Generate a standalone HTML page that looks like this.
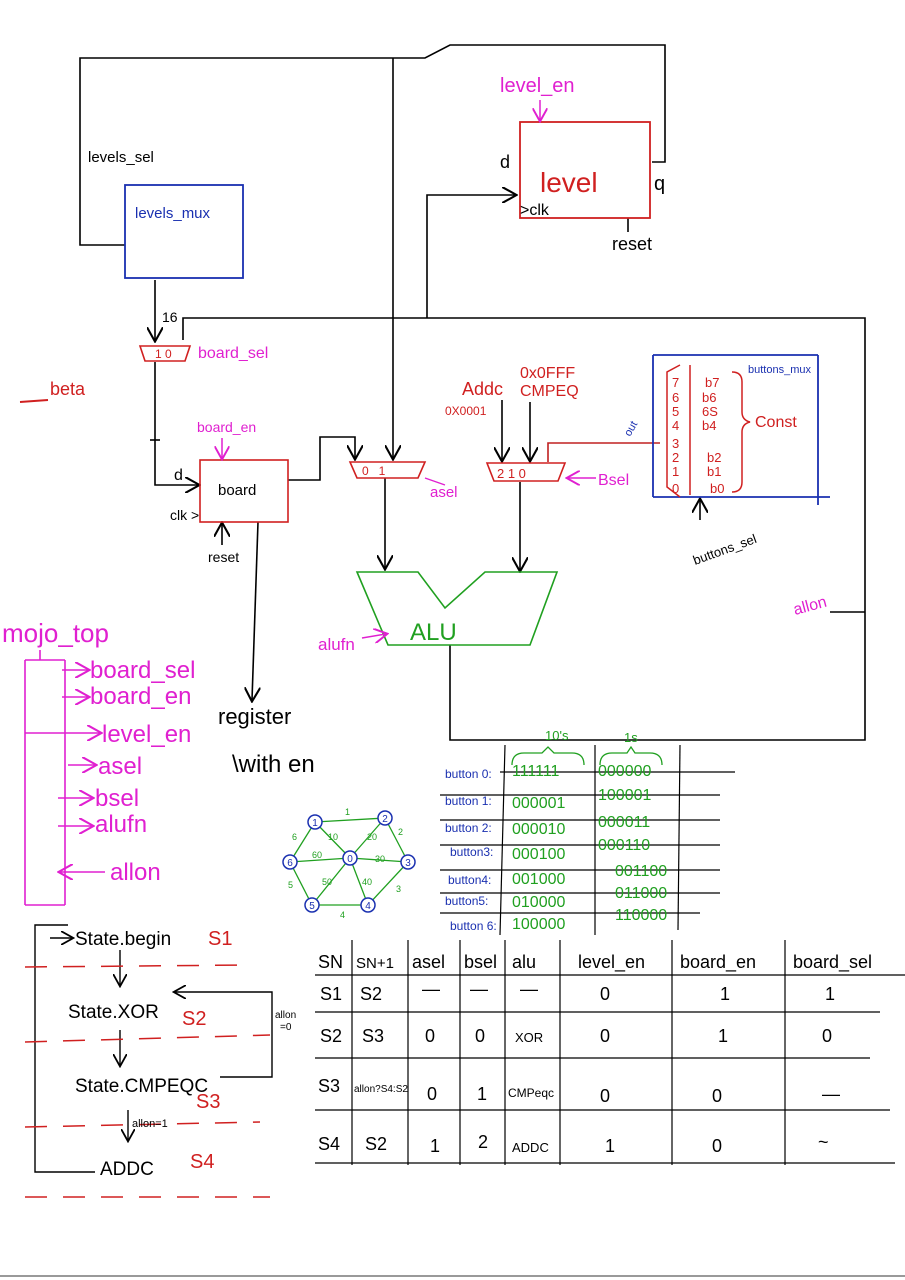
<!DOCTYPE html>
<html><head><meta charset="utf-8"><style>
html,body{margin:0;padding:0;background:#fff}
svg{display:block}
text{font-family:"Liberation Sans",sans-serif}
</style></head><body>
<svg width="905" height="1280" viewBox="0 0 905 1280" xmlns="http://www.w3.org/2000/svg">
<defs>
<marker id="a" markerWidth="10" markerHeight="10" refX="8" refY="5" orient="auto"><path d="M0,0 L9,5 L0,10" fill="none" stroke="#000" stroke-width="1.3"/></marker>
<marker id="am" markerWidth="10" markerHeight="10" refX="8" refY="5" orient="auto"><path d="M0,0 L9,5 L0,10" fill="none" stroke="#e020d0" stroke-width="1.3"/></marker>
</defs>
<rect width="905" height="1280" fill="#fff"/>
<line x1="0" y1="1276" x2="905" y2="1276" stroke="#999" stroke-width="2"/>

<g stroke="#000" stroke-width="1.6" fill="none">
<polyline points="125,245 80,245 80,58 425,58 450,45 665,45 665,162 652,162"/>
<line x1="393" y1="58" x2="393" y2="458" marker-end="url(#a)"/>
<polyline points="427,318 427,195 515,195" marker-end="url(#a)"/>
<polyline points="183,340 183,318 865,318 865,740 450,740 450,645"/>
<line x1="155" y1="280" x2="155" y2="340" marker-end="url(#a)"/>
<polyline points="155,362 155,485 198,485" marker-end="url(#a)"/>
<line x1="150" y1="440" x2="160" y2="440"/>
<polyline points="288,480 320,480 320,437 355,437 355,458" marker-end="url(#a)"/>
<line x1="385" y1="478" x2="385" y2="568" marker-end="url(#a)"/>
<line x1="520" y1="482" x2="520" y2="570" marker-end="url(#a)"/>
<line x1="502" y1="400" x2="502" y2="460" marker-end="url(#a)"/>
<line x1="530" y1="402" x2="530" y2="460" marker-end="url(#a)"/>
<polyline points="548,462 548,443 660,443" stroke="#c02020"/>
<line x1="222" y1="545" x2="222" y2="524" marker-end="url(#a)"/>
<line x1="258" y1="522" x2="252" y2="700" marker-end="url(#a)"/>
<line x1="830" y1="612" x2="865" y2="612"/>
<line x1="628" y1="218" x2="628" y2="232"/>
<line x1="700" y1="520" x2="700" y2="500" marker-end="url(#a)"/>
</g>

<rect x="125" y="185" width="118" height="93" fill="none" stroke="#1a30b0" stroke-width="1.8"/>
<text x="135" y="218" font-size="15" fill="#1a30b0">levels_mux</text>
<text x="88" y="162" font-size="15" fill="#000">levels_sel</text>

<rect x="520" y="122" width="130" height="96" fill="none" stroke="#d02020" stroke-width="1.8"/>
<text x="540" y="192" font-size="28" fill="#d02020">level</text>
<text x="500" y="92" font-size="20" fill="#e020d0">level_en</text>
<line x1="540" y1="100" x2="540" y2="120" stroke="#e020d0" stroke-width="1.5" marker-end="url(#am)"/>
<text x="500" y="168" font-size="18">d</text>
<text x="654" y="190" font-size="20">q</text>
<text x="520" y="215" font-size="16">&gt;clk</text>
<text x="612" y="250" font-size="18">reset</text>

<polygon points="140,346 190,346 185,361 145,361" fill="none" stroke="#d02020" stroke-width="1.6"/>
<text x="155" y="358" font-size="12" fill="#d02020">1 0</text>
<text x="162" y="322" font-size="14">16</text>
<text x="198" y="358" font-size="16" fill="#e020d0">board_sel</text>
<text x="50" y="395" font-size="18" fill="#d02020">beta</text>
<line x1="20" y1="402" x2="48" y2="400" stroke="#d02020" stroke-width="2"/>

<rect x="200" y="460" width="88" height="62" fill="none" stroke="#d02020" stroke-width="1.6"/>
<text x="218" y="495" font-size="15">board</text>
<text x="197" y="432" font-size="14" fill="#e020d0">board_en</text>
<line x1="222" y1="438" x2="222" y2="458" stroke="#e020d0" stroke-width="1.5" marker-end="url(#am)"/>
<text x="174" y="480" font-size="16">d</text>
<text x="170" y="520" font-size="14">clk &gt;</text>
<text x="208" y="562" font-size="14">reset</text>

<polygon points="350,462 425,462 418,478 357,478" fill="none" stroke="#d02020" stroke-width="1.6"/>
<text x="362" y="475" font-size="12" fill="#d02020">0&#160;&#160;&#160;1</text>
<text x="430" y="497" font-size="15" fill="#e020d0">asel</text>
<line x1="445" y1="485" x2="425" y2="478" stroke="#e020d0" stroke-width="1.3"/>

<polygon points="487,463 565,463 558,481 494,481" fill="none" stroke="#d02020" stroke-width="1.6"/>
<text x="497" y="478" font-size="13" fill="#d02020">2 1 0</text>
<text x="598" y="485" font-size="16" fill="#e020d0">Bsel</text>
<line x1="596" y1="478" x2="568" y2="478" stroke="#e020d0" stroke-width="1.5" marker-end="url(#am)"/>
<text x="462" y="395" font-size="18" fill="#d02020">Addc</text>
<text x="520" y="378" font-size="16" fill="#d02020">0x0FFF</text>
<text x="520" y="396" font-size="16" fill="#d02020">CMPEQ</text>
<text x="445" y="415" font-size="12" fill="#d02020">0X0001</text>
<text x="630" y="437" font-size="11" fill="#1a30b0" transform="rotate(-60 630 437)">out</text>

<g stroke="#1a30b0" stroke-width="1.8" fill="none">
<line x1="653" y1="355" x2="818" y2="355"/>
<line x1="653" y1="355" x2="653" y2="497"/>
<line x1="818" y1="355" x2="818" y2="505"/>
<line x1="653" y1="497" x2="830" y2="497"/>
</g>
<g stroke="#d02020" stroke-width="1.5" fill="none">
<polyline points="680,365 667,372 667,487 680,497"/>
<line x1="690" y1="365" x2="690" y2="495"/>
<path d="M732,372 q10,0 10,10 v30 q0,8 8,10 q-8,2 -8,10 v50 q0,10 -10,10"/>
</g>
<g font-size="13" fill="#d02020">
<text x="672" y="387">7</text><text x="705" y="387">b7</text>
<text x="672" y="402">6</text><text x="702" y="402">b6</text>
<text x="672" y="416">5</text><text x="702" y="416">6S</text>
<text x="672" y="430">4</text><text x="702" y="430">b4</text>
<text x="672" y="448">3</text>
<text x="672" y="462">2</text><text x="707" y="462">b2</text>
<text x="672" y="476">1</text><text x="707" y="476">b1</text>
<text x="672" y="493">0</text><text x="710" y="493">b0</text>
<text x="755" y="427" font-size="16">Const</text>
</g>
<text x="748" y="373" font-size="11" fill="#1a30b0">buttons_mux</text>
<text x="695" y="565" font-size="13" transform="rotate(-20 695 565)">buttons_sel</text>
<text x="795" y="615" font-size="16" fill="#e020d0" transform="rotate(-15 795 615)">allon</text>

<polygon points="357,572 418,572 445,608 485,572 557,572 530,645 388,645" fill="none" stroke="#20a020" stroke-width="1.6"/>
<text x="410" y="640" font-size="24" fill="#20a020">ALU</text>
<text x="318" y="650" font-size="17" fill="#e020d0">alufn</text>
<line x1="362" y1="638" x2="386" y2="634" stroke="#e020d0" stroke-width="1.5" marker-end="url(#am)"/>

<text x="2" y="642" font-size="26" fill="#e020d0">mojo_top</text>
<g stroke="#e020d0" stroke-width="1.6" fill="none">
<line x1="25" y1="660" x2="25" y2="905"/>
<line x1="65" y1="660" x2="65" y2="905"/>
<line x1="25" y1="660" x2="65" y2="660"/>
<line x1="25" y1="905" x2="65" y2="905"/>
<line x1="40" y1="650" x2="40" y2="660"/>
<line x1="25" y1="733" x2="100" y2="733" marker-end="url(#am)"/>
<line x1="62" y1="670" x2="88" y2="670" marker-end="url(#am)"/>
<line x1="62" y1="697" x2="88" y2="697" marker-end="url(#am)"/>
<line x1="68" y1="765" x2="95" y2="765" marker-end="url(#am)"/>
<line x1="58" y1="798" x2="92" y2="798" marker-end="url(#am)"/>
<line x1="58" y1="826" x2="92" y2="826" marker-end="url(#am)"/>
<line x1="105" y1="872" x2="60" y2="872" marker-end="url(#am)"/>
</g>
<g fill="#e020d0" font-size="24">
<text x="90" y="678">board_sel</text>
<text x="90" y="704">board_en</text>
<text x="102" y="742">level_en</text>
<text x="98" y="774">asel</text>
<text x="95" y="806">bsel</text>
<text x="95" y="832">alufn</text>
<text x="110" y="880">allon</text>
</g>
<text x="218" y="724" font-size="22">register</text>
<text x="232" y="772" font-size="24">\with en</text>

<g stroke="#000" stroke-width="1.2">
<line x1="500" y1="772" x2="735" y2="772"/>
<line x1="440" y1="795" x2="720" y2="795"/>
<line x1="440" y1="820" x2="720" y2="820"/>
<line x1="440" y1="845" x2="720" y2="845"/>
<line x1="440" y1="870" x2="720" y2="870"/>
<line x1="440" y1="893" x2="720" y2="893"/>
<line x1="440" y1="913" x2="700" y2="913"/>
<line x1="505" y1="745" x2="500" y2="935"/>
<line x1="595" y1="745" x2="595" y2="935"/>
<line x1="680" y1="745" x2="678" y2="930"/>
</g>
<g stroke="#20a020" stroke-width="1.3" fill="none">
<path d="M512,765 q0,-12 12,-12 h18 l6,-6 l6,6 h18 q12,0 12,12"/>
<path d="M600,765 q0,-12 12,-12 h15 l4,-6 l4,6 h15 q12,0 12,12"/>
</g>
<text x="545" y="740" font-size="13" fill="#20a020">10's</text>
<text x="624" y="742" font-size="13" fill="#20a020">1s</text>
<g font-size="12" fill="#1a30b0">
<text x="445" y="778">button 0:</text>
<text x="445" y="805">button 1:</text>
<text x="445" y="832">button 2:</text>
<text x="450" y="856">button3:</text>
<text x="448" y="884">button4:</text>
<text x="445" y="905">button5:</text>
<text x="450" y="930">button 6:</text>
</g>
<g font-size="16" fill="#20a020">
<text x="512" y="776">111111</text><text x="598" y="776">000000</text>
<text x="512" y="808">000001</text><text x="598" y="800">100001</text>
<text x="512" y="834">000010</text><text x="598" y="827">000011</text>
<text x="512" y="859">000100</text><text x="598" y="850">000110</text>
<text x="512" y="884">001000</text><text x="615" y="876">001100</text>
<text x="512" y="907">010000</text><text x="615" y="898">011000</text>
<text x="512" y="929">100000</text><text x="615" y="920">110000</text>
</g>

<g stroke="#20a020" stroke-width="1.3">
<line x1="315" y1="822" x2="385" y2="818"/>
<line x1="315" y1="822" x2="290" y2="862"/>
<line x1="315" y1="822" x2="350" y2="858"/>
<line x1="385" y1="818" x2="350" y2="858"/>
<line x1="385" y1="818" x2="408" y2="862"/>
<line x1="290" y1="862" x2="350" y2="858"/>
<line x1="350" y1="858" x2="408" y2="862"/>
<line x1="290" y1="862" x2="312" y2="905"/>
<line x1="350" y1="858" x2="312" y2="905"/>
<line x1="350" y1="858" x2="368" y2="905"/>
<line x1="408" y1="862" x2="368" y2="905"/>
<line x1="312" y1="905" x2="368" y2="905"/>
</g>
<g stroke="#1a30b0" stroke-width="1.5" fill="#fff">
<circle cx="315" cy="822" r="7"/><circle cx="385" cy="818" r="7"/><circle cx="290" cy="862" r="7"/>
<circle cx="350" cy="858" r="7"/><circle cx="408" cy="862" r="7"/><circle cx="312" cy="905" r="7"/><circle cx="368" cy="905" r="7"/>
</g>
<g font-size="10" fill="#1a30b0" text-anchor="middle">
<text x="315" y="826">1</text><text x="385" y="822">2</text><text x="290" y="866">6</text><text x="350" y="862">0</text>
<text x="408" y="866">3</text><text x="312" y="909">5</text><text x="368" y="909">4</text>
</g>
<g font-size="9" fill="#20a020">
<text x="345" y="815">1</text><text x="292" y="840">6</text><text x="328" y="840">10</text><text x="367" y="840">20</text>
<text x="398" y="835">2</text><text x="312" y="858">60</text><text x="375" y="862">30</text><text x="288" y="888">5</text>
<text x="322" y="885">50</text><text x="362" y="885">40</text><text x="396" y="892">3</text><text x="340" y="918">4</text>
</g>

<g stroke="#000" stroke-width="1.4" fill="none">
<polyline points="68,925 35,925 35,1172 95,1172"/>
<line x1="50" y1="938" x2="72" y2="938" marker-end="url(#a)"/>
<line x1="120" y1="950" x2="120" y2="985" marker-end="url(#a)"/>
<line x1="120" y1="1030" x2="120" y2="1065" marker-end="url(#a)"/>
<polyline points="220,1077 272,1077 272,992 175,992" marker-end="url(#a)"/>
<line x1="128" y1="1110" x2="128" y2="1140" marker-end="url(#a)"/>
</g>
<g stroke="#d02020" stroke-width="1.5" stroke-dasharray="22,16">
<line x1="25" y1="967" x2="250" y2="965"/>
<line x1="25" y1="1042" x2="270" y2="1035"/>
<line x1="25" y1="1127" x2="260" y2="1122"/>
<line x1="25" y1="1197" x2="270" y2="1197"/>
</g>
<g font-size="19">
<text x="75" y="945">State.begin</text>
<text x="68" y="1018">State.XOR</text>
<text x="75" y="1092">State.CMPEQC</text>
<text x="100" y="1175">ADDC</text>
</g>
<text x="275" y="1018" font-size="10">allon</text><text x="280" y="1030" font-size="10">=0</text>
<text x="132" y="1127" font-size="11">allon=1</text>
<g font-size="20" fill="#d02020">
<text x="208" y="945">S1</text><text x="182" y="1025">S2</text><text x="196" y="1108">S3</text><text x="190" y="1168">S4</text>
</g>

<g stroke="#000" stroke-width="1.2">
<line x1="315" y1="975" x2="905" y2="975"/>
<line x1="315" y1="1012" x2="880" y2="1012"/>
<line x1="315" y1="1058" x2="870" y2="1058"/>
<line x1="315" y1="1110" x2="890" y2="1110"/>
<line x1="315" y1="1163" x2="895" y2="1163"/>
<line x1="352" y1="940" x2="352" y2="1165"/>
<line x1="408" y1="940" x2="408" y2="1165"/>
<line x1="460" y1="940" x2="460" y2="1165"/>
<line x1="505" y1="940" x2="505" y2="1165"/>
<line x1="560" y1="940" x2="560" y2="1165"/>
<line x1="672" y1="940" x2="672" y2="1165"/>
<line x1="785" y1="940" x2="785" y2="1165"/>
</g>
<g font-size="18">
<text x="318" y="968">SN</text><text x="356" y="968" font-size="15">SN+1</text>
<text x="412" y="968">asel</text><text x="464" y="968">bsel</text><text x="512" y="968">alu</text>
<text x="578" y="968">level_en</text><text x="680" y="968">board_en</text><text x="793" y="968">board_sel</text>
<text x="320" y="1000">S1</text><text x="360" y="1000">S2</text><text x="422" y="995">—</text><text x="470" y="995">—</text><text x="520" y="995">—</text>
<text x="600" y="1000">0</text><text x="720" y="1000">1</text><text x="825" y="1000">1</text>
<text x="320" y="1042">S2</text><text x="362" y="1042">S3</text><text x="425" y="1042">0</text><text x="475" y="1042">0</text><text x="515" y="1042" font-size="13">XOR</text>
<text x="600" y="1042">0</text><text x="718" y="1042">1</text><text x="822" y="1042">0</text>
<text x="318" y="1092">S3</text><text x="354" y="1092" font-size="10">allon?S4:S2</text><text x="427" y="1100">0</text><text x="477" y="1100">1</text><text x="508" y="1097" font-size="12">CMPeqc</text>
<text x="600" y="1102">0</text><text x="712" y="1102">0</text><text x="822" y="1100">—</text>
<text x="318" y="1150">S4</text><text x="365" y="1150">S2</text><text x="430" y="1152">1</text><text x="478" y="1148">2</text><text x="512" y="1152" font-size="13">ADDC</text>
<text x="605" y="1152">1</text><text x="712" y="1152">0</text><text x="818" y="1148">~</text>
</g>
</svg>
</body></html>
